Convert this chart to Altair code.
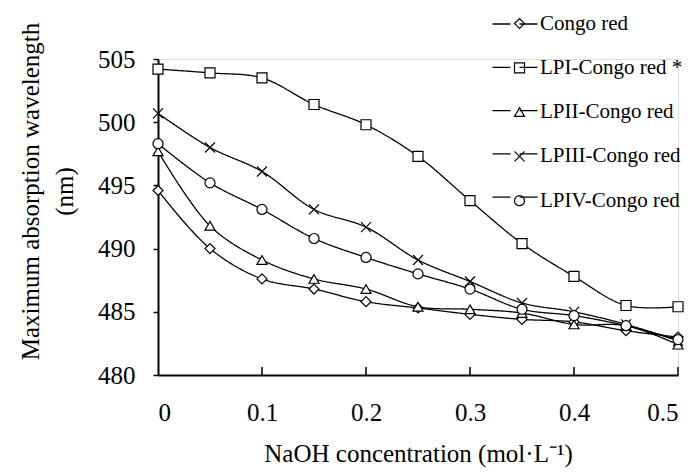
import altair as alt
import pandas as pd

conc = [0, 0.05, 0.1, 0.15, 0.2, 0.25, 0.3, 0.35, 0.4, 0.45, 0.5]
series_names = ["Congo red", "LPI-Congo red *", "LPII-Congo red", "LPIII-Congo red", "LPIV-Congo red"]
congo = [494.6, 490.0, 487.6, 486.8, 485.8, 485.3, 484.8, 484.4, 484.2, 483.5, 483.0]
lpi = [504.2, 503.9, 503.5, 501.4, 499.8, 497.3, 493.8, 490.4, 487.8, 485.5, 485.4]
lpii = [497.7, 491.8, 489.1, 487.6, 486.8, 485.4, 485.2, 484.9, 484.0, 483.9, 482.4]
lpiii = [500.7, 498.0, 496.1, 493.1, 491.7, 489.1, 487.4, 485.7, 485.0, 484.0, 482.7]
lpiv = [498.3, 495.2, 493.1, 490.8, 489.3, 488.0, 486.8, 485.2, 484.7, 483.9, 482.8]
x_ticks = [0, 0.1, 0.2, 0.3, 0.4, 0.5]
y_ticks = [480, 485, 490, 495, 500, 505]

rows = []
for name, vals in zip(series_names, [congo, lpi, lpii, lpiii, lpiv]):
    for c, v in zip(conc, vals):
        rows.append({"series": name, "conc": c, "wl": v})
df = pd.DataFrame(rows)
tick_df = pd.DataFrame({"conc": x_ticks[1:]})

W, H = 520, 316
FONT = "Liberation Serif"
LEG_Y = -46
LEG_FONT = 21
LEG_ROWPAD = 22.3

xscale = alt.Scale(domain=[0, 0.5], nice=False, zero=False)
yscale = alt.Scale(domain=[480, 505], nice=False, zero=False)

plot_shapes = [
    "diamond",
    "square",
    "triangle-up",
    "M-1,-1L1,1M1,-1L-1,1",
    "circle",
]

x_enc = alt.X(
    "conc:Q",
    scale=xscale,
    axis=alt.Axis(
        values=x_ticks,
        format="~g",
        tickSize=0,
        labelPadding=25,
        labelFontSize=25,
        labelFont=FONT,
        labelColor="black",
        title="NaOH concentration (mol·L⁻¹)",
        titleFont=FONT,
        titleFontSize=25,
        titleFontWeight="normal",
        titleColor="black",
        titlePadding=16,
        domainColor="black",
        domainWidth=2,
        grid=False,
    ),
)
y_enc = alt.Y(
    "wl:Q",
    scale=yscale,
    axis=alt.Axis(
        values=y_ticks,
        tickSize=5,
        tickColor="black",
        tickWidth=1.5,
        labelPadding=18,
        labelFontSize=25,
        labelFont=FONT,
        labelColor="black",
        title=["Maximum absorption wavelength", "(nm)"],
        titleFont=FONT,
        titleFontSize=25,
        titleFontWeight="normal",
        titleColor="black",
        titleLineHeight=34,
        titlePadding=20,
        titleY=132,
        domainColor="black",
        domainWidth=2,
        grid=False,
    ),
)


def marker_legend():
    return alt.Legend(
        title=None,
        orient="none",
        legendX=351,
        legendY=LEG_Y,
        direction="vertical",
        symbolSize=100,
        symbolStrokeColor="black",
        symbolStrokeWidth=1.2,
        labelFont=FONT,
        labelFontSize=LEG_FONT,
        labelColor="black",
        labelOffset=10,
        rowPadding=LEG_ROWPAD,
        padding=0,
    )


lines = alt.Chart(df).transform_calculate(
    line_series="datum.series"
).mark_line(
    interpolate="catmull-rom", strokeWidth=1.3
).encode(
    x=x_enc,
    y=y_enc,
    detail="series:N",
    # colour legend (all black) merges with the shape legend below -> markers + labels
    color=alt.Color(
        "series:N",
        scale=alt.Scale(domain=series_names, range=["black"] * 5),
        legend=marker_legend(),
    ),
    # separate legend that draws only the short line segments beside the markers
    strokeDash=alt.StrokeDash(
        "line_series:N",
        sort="ascending",
        scale=alt.Scale(range=[[1, 0]] * 5),
        legend=alt.Legend(
            title=None,
            orient="none",
            legendX=346,
            legendY=LEG_Y,
            direction="vertical",
            symbolType="M-2.25,0L-0.45,0M0.45,0L2.25,0",
            symbolSize=400,
            symbolStrokeWidth=1.3,
            symbolStrokeColor="black",
            labelFont=FONT,
            labelFontSize=LEG_FONT,
            labelExpr="''",
            labelOffset=16,
            rowPadding=LEG_ROWPAD,
            padding=0,
        ),
    ),
)

points = alt.Chart(df).mark_point(
    filled=False, fill="white", fillOpacity=1, stroke="black", strokeWidth=1.2, size=100, opacity=1
).encode(
    x="conc:Q",
    y="wl:Q",
    shape=alt.Shape(
        "series:N",
        scale=alt.Scale(domain=series_names, range=plot_shapes),
        legend=marker_legend(),
    ),
)

ticks = alt.Chart(tick_df).mark_rule(color="black", strokeWidth=1.5).encode(
    x="conc:Q", y=alt.value(H), y2=alt.value(H - 8)
)

chart = (
    alt.layer(lines, ticks, points)
    .properties(
        width=W,
        height=H,
        autosize=alt.AutoSizeParams(type="none"),
        padding={"left": 150, "top": 51, "right": 11, "bottom": 93},
    )
    .configure_view(strokeWidth=0)
    .configure(background="white")
)

chart.save("out.html", embed_options={"renderer": "svg", "actions": False})
